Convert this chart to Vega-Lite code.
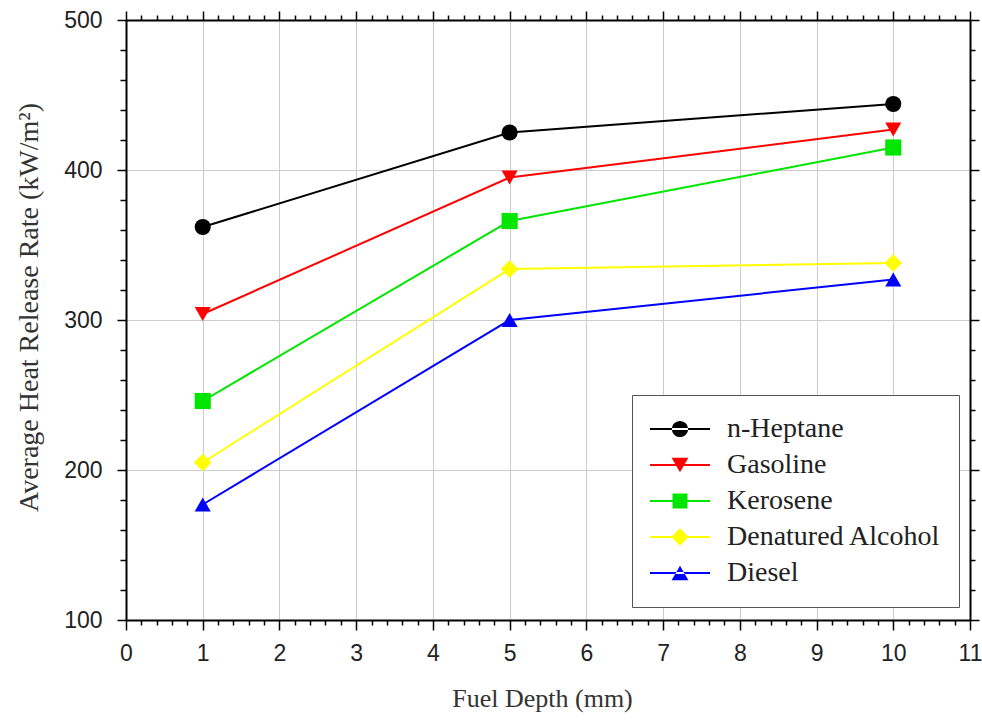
{
  "$schema": "https://vega.github.io/schema/vega-lite/v6.json",
  "autosize": {"type": "none"},
  "width": 844,
  "height": 600,
  "padding": {"left": 126, "top": 20, "right": 12, "bottom": 101},
  "background": "white",
  "config": {
    "view": {"stroke": null},
    "axis": {
      "domainColor": "#000000",
      "domainWidth": 2,
      "tickColor": "#000000",
      "tickWidth": 1.5,
      "labelFont": "Liberation Sans",
      "labelFontSize": 23,
      "labelColor": "#222222",
      "titleFont": "Liberation Serif",
      "titleFontSize": 26,
      "titleFontWeight": "normal",
      "titleColor": "#333333",
      "gridColor": "#cccccc",
      "gridWidth": 1,
      "labelOverlap": false,
      "labelFlush": false
    },
    "legend": {
      "orient": "none",
      "legendX": 506,
      "legendY": 375,
      "symbolSize": 3600,
      "symbolOpacity": 1,
      "symbolStrokeWidth": 0,
      "clipHeight": 32,
      "rowPadding": 4,
      "padding": 18,
      "strokeColor": "#555555",
      "fillColor": "white",
      "labelFont": "Liberation Serif",
      "labelFontSize": 28,
      "labelColor": "#222222",
      "labelLimit": 400,
      "labelOffset": 17
    }
  },
  "data": {
    "values": [
      {"fuel": "n-Heptane", "depth": 1, "hrr": 362},
      {"fuel": "n-Heptane", "depth": 5, "hrr": 425},
      {"fuel": "n-Heptane", "depth": 10, "hrr": 444},
      {"fuel": "Gasoline", "depth": 1, "hrr": 304},
      {"fuel": "Gasoline", "depth": 5, "hrr": 395},
      {"fuel": "Gasoline", "depth": 10, "hrr": 427},
      {"fuel": "Kerosene", "depth": 1, "hrr": 246},
      {"fuel": "Kerosene", "depth": 5, "hrr": 366},
      {"fuel": "Kerosene", "depth": 10, "hrr": 415},
      {"fuel": "Denatured Alcohol", "depth": 1, "hrr": 205},
      {"fuel": "Denatured Alcohol", "depth": 5, "hrr": 334},
      {"fuel": "Denatured Alcohol", "depth": 10, "hrr": 338},
      {"fuel": "Diesel", "depth": 1, "hrr": 177},
      {"fuel": "Diesel", "depth": 5, "hrr": 300},
      {"fuel": "Diesel", "depth": 10, "hrr": 327}
    ]
  },
  "resolve": {"axis": {"x": "independent", "y": "independent"}},
  "layer": [
    {
      "mark": {"type": "point", "filled": true, "opacity": 0},
      "encoding": {
        "x": {
          "field": "depth", "type": "quantitative",
          "scale": {"domain": [0, 11], "nice": false, "zero": false},
          "axis": {
            "orient": "bottom",
            "title": "Fuel Depth (mm)",
            "values": [0,0.2,0.4,0.6,0.8,1,1.2,1.4,1.6,1.8,2,2.2,2.4,2.6,2.8,3,3.2,3.4,3.6,3.8,4,4.2,4.4,4.6,4.8,5,5.2,5.4,5.6,5.8,6,6.2,6.4,6.6,6.8,7,7.2,7.4,7.6,7.8,8,8.2,8.4,8.6,8.8,9,9.2,9.4,9.6,9.8,10,10.2,10.4,10.6,10.8,11],
            "labelExpr": "abs(datum.value - round(datum.value)) < 0.001 ? format(round(datum.value), 'd') : ''",
            "tickSize": {"condition": {"test": "abs(datum.value - round(datum.value)) < 0.001", "value": 10}, "value": 5},
            "gridOpacity": {"condition": {"test": "abs(datum.value - round(datum.value)) < 0.001", "value": 1}, "value": 0},
            "labelPadding": 12,
            "titlePadding": 20,
            "titleX": 416
          }
        },
        "y": {
          "field": "hrr", "type": "quantitative",
          "scale": {"domain": [100, 500], "nice": false, "zero": false},
          "axis": {
            "orient": "left",
            "title": "Average Heat Release Rate (kW/m²)",
            "values": [100,120,140,160,180,200,220,240,260,280,300,320,340,360,380,400,420,440,460,480,500],
            "labelExpr": "datum.value % 100 === 0 ? format(datum.value, 'd') : ''",
            "tickSize": {"condition": {"test": "datum.value % 100 === 0", "value": 9}, "value": 6},
            "gridOpacity": {"condition": {"test": "datum.value % 100 === 0", "value": 1}, "value": 0},
            "labelPadding": 15,
            "titlePadding": 20,
            "titleFontSize": 28,
            "titleY": 287
          }
        },
        "color": {
          "field": "fuel", "type": "nominal",
          "scale": {
            "domain": ["n-Heptane", "Gasoline", "Kerosene", "Denatured Alcohol", "Diesel"],
            "range": ["#000000", "#ff0000", "#00e600", "#ffff00", "#0000ff"]
          },
          "legend": {"title": null}
        },
        "shape": {
          "field": "fuel", "type": "nominal",
          "scale": {
            "domain": ["n-Heptane", "Gasoline", "Kerosene", "Denatured Alcohol", "Diesel"],
            "range": [
              "M-1,-0.035H1V0.035H-1ZM-0.27,0A0.27,0.27 0 1,0 0.27,0A0.27,0.27 0 1,0 -0.27,0Z",
              "M-1,-0.035H1V0.035H-1ZM-0.28,-0.24L0.28,-0.24L0,0.24Z",
              "M-1,-0.035H1V0.035H-1ZM-0.25,-0.25H0.25V0.25H-0.25Z",
              "M-1,-0.035H1V0.035H-1ZM0,-0.29L0.29,0L0,0.29L-0.29,0Z",
              "M-1,-0.035H1V0.035H-1ZM-0.28,0.24L0.28,0.24L0,-0.24Z"
            ]
          },
          "legend": {"title": null}
        }
      }
    },
    {
      "mark": {"type": "line", "strokeWidth": 2},
      "encoding": {
        "x": {"field": "depth", "type": "quantitative", "axis": null},
        "y": {"field": "hrr", "type": "quantitative", "axis": null},
        "color": {"field": "fuel", "type": "nominal"}
      }
    },
    {
      "mark": {"type": "point", "filled": true, "opacity": 1, "size": 260},
      "encoding": {
        "x": {"field": "depth", "type": "quantitative", "axis": null},
        "y": {"field": "hrr", "type": "quantitative", "axis": null},
        "color": {"field": "fuel", "type": "nominal"},
        "shape": {
          "condition": [
            {"test": "datum.fuel === 'Gasoline'", "value": "triangle-down"},
            {"test": "datum.fuel === 'Kerosene'", "value": "square"},
            {"test": "datum.fuel === 'Denatured Alcohol'", "value": "M-1.1,0L0,-1.1L1.1,0L0,1.1Z"},
            {"test": "datum.fuel === 'Diesel'", "value": "triangle-up"}
          ],
          "value": "circle"
        }
      }
    },
    {
      "mark": {"type": "point", "opacity": 0},
      "encoding": {
        "x": {
          "field": "depth", "type": "quantitative",
          "axis": {
            "orient": "top",
            "title": null,
            "values": [0,0.2,0.4,0.6,0.8,1,1.2,1.4,1.6,1.8,2,2.2,2.4,2.6,2.8,3,3.2,3.4,3.6,3.8,4,4.2,4.4,4.6,4.8,5,5.2,5.4,5.6,5.8,6,6.2,6.4,6.6,6.8,7,7.2,7.4,7.6,7.8,8,8.2,8.4,8.6,8.8,9,9.2,9.4,9.6,9.8,10,10.2,10.4,10.6,10.8,11],
            "labels": false,
            "grid": false,
            "tickSize": {"condition": {"test": "abs(datum.value - round(datum.value)) < 0.001", "value": 9}, "value": 5}
          }
        },
        "y": {
          "field": "hrr", "type": "quantitative",
          "axis": {
            "orient": "right",
            "title": null,
            "values": [100,120,140,160,180,200,220,240,260,280,300,320,340,360,380,400,420,440,460,480,500],
            "labels": false,
            "grid": false,
            "tickSize": {"condition": {"test": "datum.value % 100 === 0", "value": 9}, "value": 5}
          }
        }
      }
    }
  ]
}
